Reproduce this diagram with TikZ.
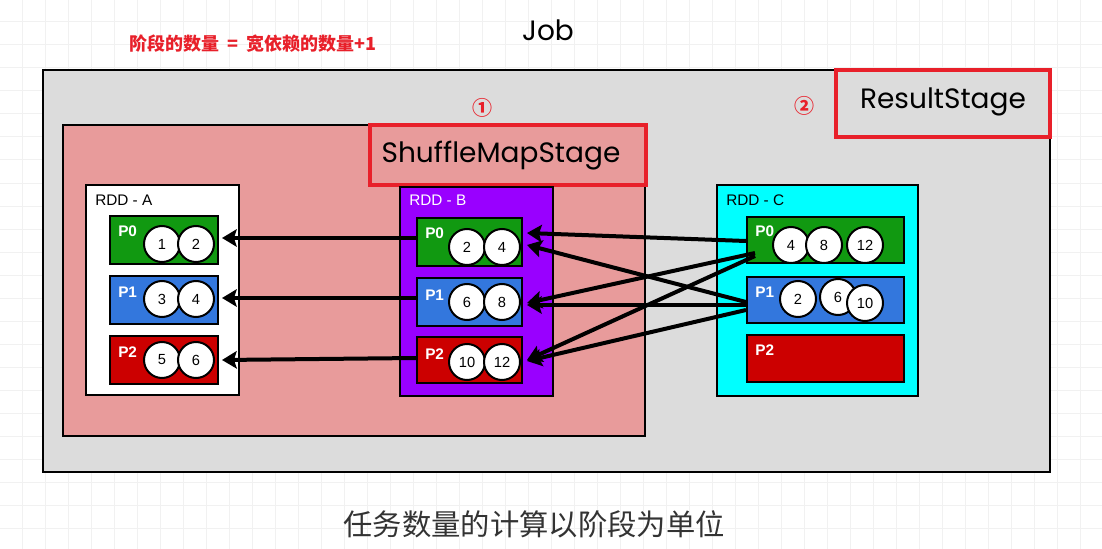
\documentclass[tikz,border=0pt]{standalone}
\usepackage{fontspec}
\setmainfont{Liberation Sans}
\newfontfamily\cjk{Noto Sans CJK SC}
\newfontfamily\hand{Poppins}
\usetikzlibrary{fit,calc,arrows.meta}
\definecolor{gridc}{HTML}{F1F1F1}
\definecolor{jobgray}{HTML}{DCDCDC}
\definecolor{stagepink}{HTML}{E89B9B}
\definecolor{rddpurple}{HTML}{9900FF}
\definecolor{rddcyan}{HTML}{00FFFF}
\definecolor{pgreen}{HTML}{119911}
\definecolor{pblue}{HTML}{3377DD}
\definecolor{pred}{HTML}{CC0000}
\definecolor{redline}{HTML}{E8202A}
\definecolor{bottomtext}{HTML}{333333}
\begin{document}
\begin{tikzpicture}[x=0.75pt,y=-0.75pt,
  box/.style={draw=black,line width=1.5pt,inner sep=0pt},
  redframe/.style={draw=redline,line width=2.5pt,inner sep=0pt},
  ball/.style={circle,draw=black,line width=1.5pt,fill=white,minimum size=27pt,inner sep=0pt,font=\fontsize{11}{11}\selectfont},
  plabel/.style={text=white,font=\bfseries\fontsize{11.5}{11.5}\selectfont,anchor=west,inner sep=0pt},
  rddlabel/.style={font=\fontsize{11.5}{11.5}\selectfont,anchor=west,inner sep=0pt},
  dep/.style={line width=3pt,-{Stealth[length=11pt,width=13pt,inset=2pt]}},
  handtext/.style={font=\hand\fontsize{21}{21}\selectfont},
  circnum/.style={text=redline,font=\cjk\bfseries\fontsize{15}{15}\selectfont},
]
\useasboundingbox (0,0) rectangle (1102,549);
\fill[white] (0,0) rectangle (1102,549);
\foreach \i in {22,45,...,1102} \draw[gridc,line width=0.75pt] (\i,0) -- (\i,549);
\foreach \j in {22,45,...,549} \draw[gridc,line width=0.75pt] (0,\j) -- (1102,\j);

% titles
\node[handtext] (jobtitle) at (548,30) {Job};
\node[text=redline,font=\cjk\bfseries\fontsize{13.5}{13.5}\selectfont] (rule) at (253,44) {阶段的数量\ \ =\ \ 宽依赖的数量+1};

% job
\node[box,line width=2pt,fill=jobgray,fit={(43,70)(1050,472)}] (job) {};
\node[redframe,fill=jobgray,fit={(836,70)(1050,137)}] (rsframe) {};
\node[handtext] (rstext) at (943,102) {ResultStage};
\node[circnum] (c2) at (804,106) {②};

% shuffle map stage
\node[box,fill=stagepink,fit={(63,125)(645,436)}] (sms) {};
\node[redframe,fill=stagepink,fit={(370,125)(646,185)}] (smsframe) {};
\node[handtext] (smstext) at (501,156) {ShuffleMapStage};
\node[circnum] (c1) at (482,108) {①};

% RDD A
\node[box,fill=white,fit={(86,185)(239,395)}] (rdda) {};
\node[rddlabel] (rddalab) at (95,200) {RDD - A};
\node[box,fill=pgreen,fit={(110,216)(218,264)}] (ap0) {};
\node[box,fill=pblue,fit={(110,276)(218,324)}] (ap1) {};
\node[box,fill=pred,fit={(110,336)(218,384)}] (ap2) {};
\node[plabel] (ap0l) at (118,231) {P0};
\node[plabel] (ap1l) at (118,292) {P1};
\node[plabel] (ap2l) at (118,352) {P2};
\node[ball] (a1) at (162,244) {1};
\node[ball] (a2) at (196,244) {2};
\node[ball] (a3) at (162,299) {3};
\node[ball] (a4) at (196,299) {4};
\node[ball] (a5) at (162,360) {5};
\node[ball] (a6) at (196,360) {6};

% RDD B
\node[box,fill=rddpurple,fit={(400,187)(553,396)}] (rddb) {};
\node[rddlabel,text=white] (rddblab) at (409,200) {RDD - B};
\node[box,fill=pgreen,fit={(417,218)(522,266)}] (bp0) {};
\node[box,fill=pblue,fit={(417,278)(522,326)}] (bp1) {};
\node[box,fill=pred,fit={(417,337)(522,383)}] (bp2) {};
\node[plabel] (bp0l) at (425,233) {P0};
\node[plabel] (bp1l) at (425,295) {P1};
\node[plabel] (bp2l) at (425,354) {P2};
\node[ball] (b2) at (467,247) {2};
\node[ball] (b4) at (502,247) {4};
\node[ball] (b6) at (467,302) {6};
\node[ball] (b8) at (502,302) {8};
\node[ball] (b10) at (467,362) {10};
\node[ball] (b12) at (502,362) {12};

% RDD C
\node[box,fill=rddcyan,fit={(717,185)(918,396)}] (rddc) {};
\node[rddlabel] (rddclab) at (726,200) {RDD - C};
\node[box,fill=pgreen,fit={(747,217)(904,263)}] (cp0) {};
\node[box,fill=pblue,fit={(747,277)(904,323)}] (cp1) {};
\node[box,fill=pred,fit={(747,335)(904,382)}] (cp2) {};
\node[plabel] (cp0l) at (755,231) {P0};
\node[plabel] (cp1l) at (755,292) {P1};
\node[plabel] (cp2l) at (755,350) {P2};
\node[ball] (c4) at (791,245) {4};
\node[ball] (c8) at (824,245) {8};
\node[ball] (c12) at (865,245) {12};
\node[ball] (c2b) at (798,299) {2};
\node[ball] (c6) at (838,297) {6};
\node[ball] (c10) at (865,303) {10};

% dependencies B -> A
\draw[dep] ($(bp0.west)+(0,-4)$) -- ($(ap0.east)+(3,-2)$);
\draw[dep] ($(bp1.west)+(0,-4)$) -- ($(ap1.east)+(3,-2)$);
\draw[dep] ($(bp2.west)+(0,-2)$) -- ($(ap2.east)+(3,0)$);

% dependencies C -> B
\draw[dep] ($(cp0.west)+(0,1)$) -- ($(bp0.east)+(4,-9)$);
\draw[dep] ($(cp1.west)+(0,2)$) -- ($(bp0.east)+(4,3)$);
\draw[dep] ($(cp0.west)+(9,13)$) -- ($(bp1.east)+(4,1)$);
\draw[dep] ($(cp1.west)+(0,5)$) -- ($(bp1.east)+(4,3)$);
\draw[dep] ($(cp0.west)+(9,16)$) -- ($(bp2.east)+(4,0)$);
\draw[dep] ($(cp1.west)+(0,10)$) -- ($(bp2.east)+(4,1)$);

% bottom caption
\node[text=bottomtext,font=\cjk\fontsize{22}{22}\selectfont] (caption) at (534,524) {任务数量的计算以阶段为单位};
\end{tikzpicture}
\end{document}
